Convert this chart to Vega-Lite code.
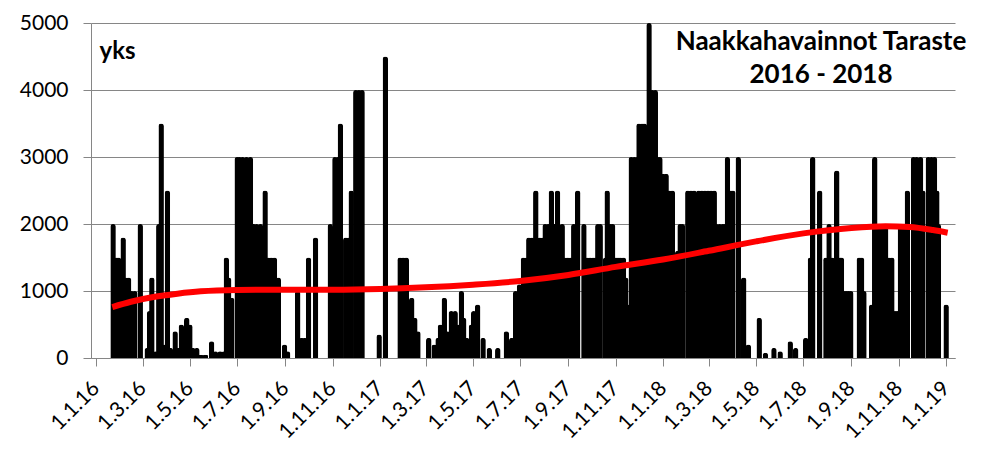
{
  "$schema": "https://vega.github.io/schema/vega-lite/v6.json",
  "width": 864,
  "height": 335,
  "autosize": "none",
  "padding": {"left": 91, "top": 23, "right": 38, "bottom": 109},
  "background": "white",
  "config": {"view": {"stroke": null}, "font": "Lato"},
  "title": {
    "text": ["Naakkahavainnot Taraste", "2016 - 2018"],
    "font": "Lato",
    "fontSize": 26,
    "fontWeight": "bold",
    "color": "black",
    "frame": "group",
    "anchor": "middle",
    "orient": "top",
    "baseline": "alphabetic",
    "lineHeight": 33,
    "offset": 0,
    "dx": 298,
    "dy": 97
  },
  "datasets": {
    "obs": [
      {"date": "2016-01-23", "count": 2000},
      {"date": "2016-01-27", "count": 1500},
      {"date": "2016-01-30", "count": 1500},
      {"date": "2016-02-05", "count": 1800},
      {"date": "2016-02-08", "count": 1200},
      {"date": "2016-02-12", "count": 1200},
      {"date": "2016-02-16", "count": 1000},
      {"date": "2016-02-20", "count": 1000},
      {"date": "2016-02-27", "count": 2000},
      {"date": "2016-03-07", "count": 150},
      {"date": "2016-03-10", "count": 700},
      {"date": "2016-03-13", "count": 1200},
      {"date": "2016-03-18", "count": 100},
      {"date": "2016-03-22", "count": 2000},
      {"date": "2016-03-25", "count": 3500},
      {"date": "2016-03-29", "count": 200},
      {"date": "2016-04-02", "count": 2500},
      {"date": "2016-04-06", "count": 150},
      {"date": "2016-04-12", "count": 400},
      {"date": "2016-04-16", "count": 150},
      {"date": "2016-04-20", "count": 500},
      {"date": "2016-04-24", "count": 350},
      {"date": "2016-04-27", "count": 600},
      {"date": "2016-05-01", "count": 500},
      {"date": "2016-05-05", "count": 150},
      {"date": "2016-05-10", "count": 150},
      {"date": "2016-05-15", "count": 50},
      {"date": "2016-05-21", "count": 50},
      {"date": "2016-05-29", "count": 250},
      {"date": "2016-06-03", "count": 100},
      {"date": "2016-06-09", "count": 100},
      {"date": "2016-06-14", "count": 100},
      {"date": "2016-06-17", "count": 1500},
      {"date": "2016-06-20", "count": 1200},
      {"date": "2016-06-24", "count": 900},
      {"date": "2016-07-01", "count": 3000},
      {"date": "2016-07-04", "count": 3000},
      {"date": "2016-07-08", "count": 3000},
      {"date": "2016-07-13", "count": 3000},
      {"date": "2016-07-18", "count": 3000},
      {"date": "2016-07-22", "count": 2000},
      {"date": "2016-07-26", "count": 2000},
      {"date": "2016-07-31", "count": 2000},
      {"date": "2016-08-03", "count": 1500},
      {"date": "2016-08-06", "count": 2500},
      {"date": "2016-08-10", "count": 1500},
      {"date": "2016-08-14", "count": 1500},
      {"date": "2016-08-18", "count": 1500},
      {"date": "2016-08-23", "count": 1200},
      {"date": "2016-08-31", "count": 200},
      {"date": "2016-09-04", "count": 100},
      {"date": "2016-09-17", "count": 1000},
      {"date": "2016-09-22", "count": 300},
      {"date": "2016-09-26", "count": 300},
      {"date": "2016-10-01", "count": 1500},
      {"date": "2016-10-10", "count": 1800},
      {"date": "2016-10-29", "count": 2000},
      {"date": "2016-11-04", "count": 3000},
      {"date": "2016-11-08", "count": 3000},
      {"date": "2016-11-11", "count": 3500},
      {"date": "2016-11-18", "count": 1800},
      {"date": "2016-11-22", "count": 1800},
      {"date": "2016-11-25", "count": 2500},
      {"date": "2016-12-01", "count": 4000},
      {"date": "2016-12-05", "count": 4000},
      {"date": "2016-12-09", "count": 4000},
      {"date": "2016-12-31", "count": 350},
      {"date": "2017-01-08", "count": 4500},
      {"date": "2017-01-27", "count": 1500},
      {"date": "2017-01-31", "count": 1500},
      {"date": "2017-02-04", "count": 1500},
      {"date": "2017-02-07", "count": 800},
      {"date": "2017-02-11", "count": 900},
      {"date": "2017-02-15", "count": 600},
      {"date": "2017-02-19", "count": 400},
      {"date": "2017-03-05", "count": 300},
      {"date": "2017-03-12", "count": 200},
      {"date": "2017-03-17", "count": 300},
      {"date": "2017-03-20", "count": 500},
      {"date": "2017-03-25", "count": 900},
      {"date": "2017-03-29", "count": 400},
      {"date": "2017-04-03", "count": 700},
      {"date": "2017-04-08", "count": 700},
      {"date": "2017-04-12", "count": 500},
      {"date": "2017-04-16", "count": 1000},
      {"date": "2017-04-19", "count": 600},
      {"date": "2017-04-23", "count": 300},
      {"date": "2017-04-29", "count": 500},
      {"date": "2017-05-02", "count": 700},
      {"date": "2017-05-07", "count": 800},
      {"date": "2017-05-14", "count": 300},
      {"date": "2017-05-22", "count": 150},
      {"date": "2017-06-02", "count": 150},
      {"date": "2017-06-13", "count": 400},
      {"date": "2017-06-20", "count": 300},
      {"date": "2017-06-25", "count": 1000},
      {"date": "2017-06-30", "count": 1100},
      {"date": "2017-07-05", "count": 1500},
      {"date": "2017-07-09", "count": 1500},
      {"date": "2017-07-12", "count": 1800},
      {"date": "2017-07-16", "count": 1800},
      {"date": "2017-07-21", "count": 2500},
      {"date": "2017-07-26", "count": 1800},
      {"date": "2017-07-30", "count": 1800},
      {"date": "2017-08-02", "count": 2000},
      {"date": "2017-08-06", "count": 2000},
      {"date": "2017-08-10", "count": 2500},
      {"date": "2017-08-14", "count": 2000},
      {"date": "2017-08-18", "count": 2500},
      {"date": "2017-08-24", "count": 2000},
      {"date": "2017-08-27", "count": 1500},
      {"date": "2017-08-31", "count": 1500},
      {"date": "2017-09-04", "count": 1500},
      {"date": "2017-09-08", "count": 2000},
      {"date": "2017-09-13", "count": 2500},
      {"date": "2017-09-21", "count": 2000},
      {"date": "2017-09-25", "count": 1500},
      {"date": "2017-09-29", "count": 1500},
      {"date": "2017-10-03", "count": 1500},
      {"date": "2017-10-06", "count": 1500},
      {"date": "2017-10-09", "count": 2000},
      {"date": "2017-10-12", "count": 2000},
      {"date": "2017-10-19", "count": 1500},
      {"date": "2017-10-21", "count": 2500},
      {"date": "2017-10-25", "count": 2000},
      {"date": "2017-10-28", "count": 2000},
      {"date": "2017-11-01", "count": 1500},
      {"date": "2017-11-04", "count": 1500},
      {"date": "2017-11-07", "count": 1500},
      {"date": "2017-11-11", "count": 1500},
      {"date": "2017-11-14", "count": 1200},
      {"date": "2017-11-17", "count": 800},
      {"date": "2017-11-21", "count": 3000},
      {"date": "2017-11-25", "count": 3000},
      {"date": "2017-11-29", "count": 3000},
      {"date": "2017-12-01", "count": 3500},
      {"date": "2017-12-05", "count": 3500},
      {"date": "2017-12-08", "count": 3500},
      {"date": "2017-12-10", "count": 2000},
      {"date": "2017-12-14", "count": 5000},
      {"date": "2017-12-18", "count": 4000},
      {"date": "2017-12-22", "count": 4000},
      {"date": "2017-12-25", "count": 3000},
      {"date": "2017-12-28", "count": 3000},
      {"date": "2018-01-01", "count": 2750},
      {"date": "2018-01-05", "count": 2750},
      {"date": "2018-01-09", "count": 2500},
      {"date": "2018-01-13", "count": 2500},
      {"date": "2018-01-20", "count": 1600},
      {"date": "2018-01-23", "count": 2000},
      {"date": "2018-01-26", "count": 2000},
      {"date": "2018-02-02", "count": 2500},
      {"date": "2018-02-06", "count": 2500},
      {"date": "2018-02-10", "count": 2500},
      {"date": "2018-02-16", "count": 2500},
      {"date": "2018-02-20", "count": 2500},
      {"date": "2018-02-24", "count": 2500},
      {"date": "2018-02-28", "count": 2500},
      {"date": "2018-03-04", "count": 2500},
      {"date": "2018-03-08", "count": 2500},
      {"date": "2018-03-11", "count": 2000},
      {"date": "2018-03-15", "count": 2000},
      {"date": "2018-03-19", "count": 2000},
      {"date": "2018-03-22", "count": 2000},
      {"date": "2018-03-25", "count": 3000},
      {"date": "2018-03-29", "count": 2500},
      {"date": "2018-04-01", "count": 2500},
      {"date": "2018-04-08", "count": 3000},
      {"date": "2018-04-15", "count": 1200},
      {"date": "2018-04-21", "count": 200},
      {"date": "2018-05-05", "count": 600},
      {"date": "2018-05-13", "count": 80},
      {"date": "2018-05-24", "count": 150},
      {"date": "2018-06-01", "count": 100},
      {"date": "2018-06-14", "count": 250},
      {"date": "2018-06-21", "count": 150},
      {"date": "2018-07-04", "count": 300},
      {"date": "2018-07-10", "count": 1500},
      {"date": "2018-07-13", "count": 3000},
      {"date": "2018-07-22", "count": 2500},
      {"date": "2018-07-30", "count": 1500},
      {"date": "2018-08-03", "count": 2000},
      {"date": "2018-08-07", "count": 1500},
      {"date": "2018-08-13", "count": 2800},
      {"date": "2018-08-17", "count": 1500},
      {"date": "2018-08-19", "count": 1500},
      {"date": "2018-08-22", "count": 1000},
      {"date": "2018-08-25", "count": 1000},
      {"date": "2018-08-28", "count": 1000},
      {"date": "2018-08-31", "count": 1000},
      {"date": "2018-09-11", "count": 1500},
      {"date": "2018-09-14", "count": 1500},
      {"date": "2018-09-17", "count": 1000},
      {"date": "2018-09-27", "count": 800},
      {"date": "2018-10-01", "count": 3000},
      {"date": "2018-10-07", "count": 2000},
      {"date": "2018-10-11", "count": 2000},
      {"date": "2018-10-15", "count": 2000},
      {"date": "2018-10-19", "count": 1500},
      {"date": "2018-10-23", "count": 1500},
      {"date": "2018-10-27", "count": 700},
      {"date": "2018-10-30", "count": 700},
      {"date": "2018-11-03", "count": 2000},
      {"date": "2018-11-07", "count": 2000},
      {"date": "2018-11-12", "count": 2500},
      {"date": "2018-11-20", "count": 3000},
      {"date": "2018-11-24", "count": 3000},
      {"date": "2018-11-29", "count": 3000},
      {"date": "2018-12-02", "count": 2500},
      {"date": "2018-12-09", "count": 3000},
      {"date": "2018-12-13", "count": 3000},
      {"date": "2018-12-17", "count": 3000},
      {"date": "2018-12-20", "count": 2500},
      {"date": "2018-12-22", "count": 2000},
      {"date": "2019-01-01", "count": 800}
    ],
    "trend": [
      {"date": "2016-01-22", "count": 760},
      {"date": "2016-02-15", "count": 840},
      {"date": "2016-03-15", "count": 910},
      {"date": "2016-04-15", "count": 960},
      {"date": "2016-05-15", "count": 995},
      {"date": "2016-07-01", "count": 1015},
      {"date": "2016-09-01", "count": 1020},
      {"date": "2016-11-01", "count": 1020},
      {"date": "2017-01-01", "count": 1030},
      {"date": "2017-03-01", "count": 1055},
      {"date": "2017-05-01", "count": 1095},
      {"date": "2017-07-01", "count": 1150},
      {"date": "2017-09-01", "count": 1240},
      {"date": "2017-11-01", "count": 1360},
      {"date": "2018-01-01", "count": 1470},
      {"date": "2018-03-01", "count": 1600},
      {"date": "2018-05-01", "count": 1740},
      {"date": "2018-07-01", "count": 1860},
      {"date": "2018-09-01", "count": 1940},
      {"date": "2018-10-15", "count": 1965},
      {"date": "2018-11-15", "count": 1955},
      {"date": "2018-12-15", "count": 1910},
      {"date": "2019-01-03", "count": 1870}
    ]
  },
  "layer": [
    {
      "data": {"name": "obs"},
      "mark": {"type": "bar", "color": "black", "width": 5.5, "cornerRadiusEnd": 2.75},
      "encoding": {
        "x": {
          "field": "date",
          "type": "temporal",
          "scale": {
            "type": "utc",
            "domain": [
              {"year": 2016, "month": 1, "date": 1, "utc": true},
              {"year": 2019, "month": 1, "date": 6, "utc": true}
            ]
          },
          "axis": {
            "title": null,
            "format": "%-d.%-m.%y",
            "tickCount": {"interval": "month", "step": 2},
            "labelAngle": -45,
            "labelAlign": "right",
            "labelBaseline": "middle",
            "labelFontSize": 21,
            "labelColor": "black",
            "labelPadding": 19,
            "labelOverlap": false,
            "labelFlush": false,
            "labelBound": false,
            "domainColor": "#868686",
            "tickColor": "#868686",
            "tickSize": 8,
            "grid": false
          }
        },
        "y": {
          "field": "count",
          "type": "quantitative",
          "scale": {"domain": [0, 5000], "nice": false},
          "axis": {
            "title": "yks",
            "titleAngle": 0,
            "titleX": 8,
            "titleY": 35,
            "titleAlign": "left",
            "titleBaseline": "alphabetic",
            "titleFontSize": 24,
            "titleFontWeight": "bold",
            "titleColor": "black",
            "values": [0, 1000, 2000, 3000, 4000, 5000],
            "format": "d",
            "labelFontSize": 21,
            "labelColor": "black",
            "labelPadding": 15,
            "tickSize": 8,
            "tickColor": "#868686",
            "domainColor": "#868686",
            "gridColor": "#868686",
            "gridWidth": 1
          }
        }
      }
    },
    {
      "data": {"name": "trend"},
      "mark": {"type": "line", "color": "#FF0000", "strokeWidth": 6, "interpolate": "monotone"},
      "encoding": {
        "x": {"field": "date", "type": "temporal"},
        "y": {"field": "count", "type": "quantitative"}
      }
    }
  ]
}
